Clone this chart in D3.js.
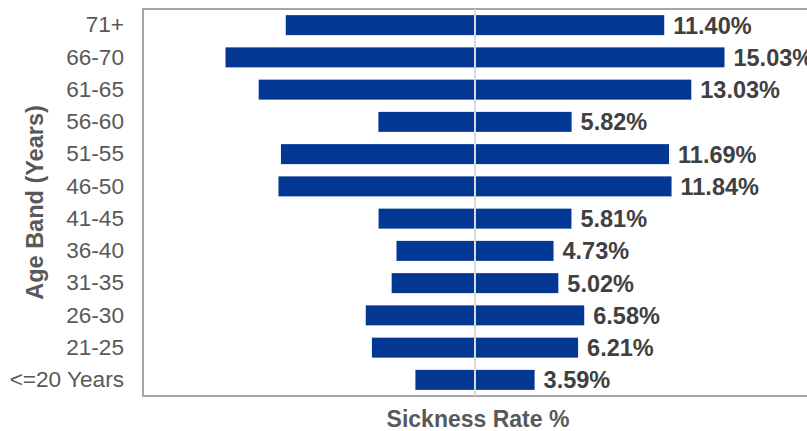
<!DOCTYPE html>
<html>
<head>
<meta charset="utf-8">
<script src="https://cdn.jsdelivr.net/npm/d3@7"></script>
<style>
  body { margin: 0; background: #fff; }
  text { font-family: "Liberation Sans", Arial, sans-serif; }
</style>
</head>
<body>
<script>
// age bands, top to bottom as drawn
var bands = ["71+", "66-70", "61-65", "56-60", "51-55", "46-50", "41-45", "36-40", "31-35", "26-30", "21-25", "<=20 Years"];
var rates = [11.40, 15.03, 13.03, 5.82, 11.69, 11.84, 5.81, 4.73, 5.02, 6.58, 6.21, 3.59];
var rateLabels = ["11.40%", "15.03%", "13.03%", "5.82%", "11.69%", "11.84%", "5.81%", "4.73%", "5.02%", "6.58%", "6.21%", "3.59%"];

var w = 807, h = 431;
// note: "top" is reserved on window, so use plot* names
var plotLeft = 143, plotRight = 807, plotTop = 9, plotBottom = 396;

var svg = d3.select("body").append("svg")
  .attr("width", w)
  .attr("height", h);

var x = d3.scaleLinear().domain([-20, 20]).range([plotLeft, plotRight]);
var y = d3.scaleBand().domain(bands).range([plotTop, plotBottom]).paddingInner(0.38).paddingOuter(0.19);

var data = bands.map(function(b, i) { return { band: b, rate: rates[i], label: rateLabels[i] }; });

// plot frame
svg.append("rect")
  .attr("x", plotLeft).attr("y", plotTop)
  .attr("width", plotRight - plotLeft + 4).attr("height", plotBottom - plotTop)
  .attr("fill", "none")
  .attr("stroke", "#a6a6a6")
  .attr("stroke-width", 2);

// bars mirrored around zero
svg.selectAll("rect.bar")
  .data(data)
  .enter()
  .append("rect")
  .attr("class", "bar")
  .attr("x", function(d) { return x(-d.rate); })
  .attr("y", function(d) { return y(d.band); })
  .attr("width", function(d) { return x(d.rate) - x(-d.rate); })
  .attr("height", y.bandwidth())
  .attr("fill", "#023893");

// centre line
svg.append("line")
  .attr("x1", x(0)).attr("x2", x(0))
  .attr("y1", plotTop).attr("y2", plotBottom)
  .attr("stroke", "#d9d9d9")
  .attr("stroke-width", 2);

// value labels
svg.selectAll("text.val")
  .data(data)
  .enter()
  .append("text")
  .attr("class", "val")
  .attr("x", function(d) { return x(d.rate) + 9; })
  .attr("y", function(d) { return y(d.band) + y.bandwidth() / 2; })
  .attr("dy", "0.36em")
  .attr("font-size", 23.5)
  .attr("font-weight", "bold")
  .attr("fill", "#404040")
  .text(function(d) { return d.label; });

// y axis labels
var yAxis = svg.append("g")
  .attr("transform", "translate(" + (plotLeft - 8) + ",0)")
  .call(d3.axisLeft(y).tickSize(0).tickPadding(11));
yAxis.select(".domain").remove();
yAxis.selectAll("text")
  .attr("font-size", 22.6)
  .attr("font-family", "Liberation Sans, Arial, sans-serif")
  .attr("fill", "#595959");

// axis titles
svg.append("text")
  .attr("transform", "translate(43," + ((plotTop + plotBottom) / 2) + ") rotate(-90)")
  .attr("text-anchor", "middle")
  .attr("font-size", 23.5)
  .attr("font-weight", "bold")
  .attr("fill", "#595959")
  .text("Age Band (Years)");

svg.append("text")
  .attr("x", 478)
  .attr("y", 427)
  .attr("text-anchor", "middle")
  .attr("font-size", 23)
  .attr("font-weight", "bold")
  .attr("fill", "#595959")
  .text("Sickness Rate %");
</script>
</body>
</html>
